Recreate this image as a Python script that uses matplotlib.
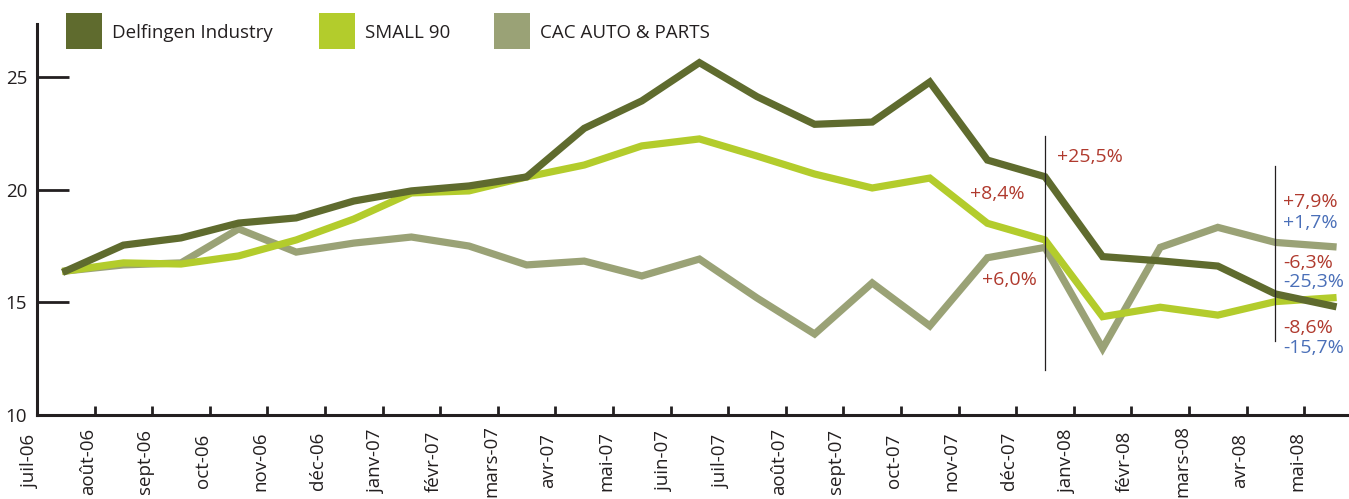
import numpy as np
import matplotlib
matplotlib.use('Agg')
import matplotlib.pyplot as plt
from matplotlib.patches import Rectangle
from matplotlib.transforms import blended_transform_factory

plt.rcParams['font.family'] = ['Open Sans', 'DejaVu Sans']

# data
months = ['juil-06', 'août-06', 'sept-06', 'oct-06', 'nov-06', 'déc-06',
          'janv-07', 'févr-07', 'mars-07', 'avr-07', 'mai-07', 'juin-07',
          'juil-07', 'août-07', 'sept-07', 'oct-07', 'nov-07', 'déc-07',
          'janv-08', 'févr-08', 'mars-08', 'avr-08', 'mai-08']
delfingen = [16.4, 17.55, 17.87, 18.53, 18.76, 19.51, 19.96, 20.18, 20.58,
             22.74, 23.96, 25.66, 24.15, 22.92, 23.02, 24.8, 21.33, 20.59,
             17.04, 16.85, 16.62, 15.38, 14.84]
small90 = [16.4, 16.76, 16.71, 17.07, 17.78, 18.71, 19.87, 19.96, 20.58,
           21.11, 21.96, 22.27, 21.51, 20.71, 20.09, 20.53, 18.52, 17.78,
           14.37, 14.79, 14.44, 15.04, 15.21]
cac_auto = [16.4, 16.67, 16.76, 18.27, 17.24, 17.64, 17.91, 17.51, 16.67,
            16.84, 16.18, 16.93, 15.2, 13.6, 15.87, 13.96, 16.99, 17.45,
            12.96, 17.45, 18.34, 17.67, 17.48]
series_names = ['Delfingen Industry', 'SMALL 90', 'CAC AUTO & PARTS']
series_colors = ['#5f6b2e', '#b3cc2c', '#9aa276']

# vertical markers: (x index of point, y bottom, y top)
markers = [(17, 12.0, 22.4), (21, 13.3, 21.07)]

# percentage notes: text, x, y, colour
notes = [('+25,5%', 17.71, 21.47, '#b03a2e'),
         ('+8,4%', 16.2, 19.82, '#b03a2e'),
         ('+6,0%', 16.41, 16.0, '#b03a2e'),
         ('+7,9%', 21.63, 19.47, '#b03a2e'),
         ('+1,7%', 21.63, 18.53, '#4a6fb8'),
         ('-6,3%', 21.63, 16.76, '#b03a2e'),
         ('-25,3%', 21.63, 15.91, '#4a6fb8'),
         ('-8,6%', 21.63, 13.87, '#b03a2e'),
         ('-15,7%', 21.63, 12.98, '#4a6fb8')]

W, H = 1349, 499
fig = plt.figure(figsize=(W / 100, H / 100), dpi=100)
ax = fig.add_axes([37 / W, 84 / H, 1312 / W, 391 / H])

x = np.arange(len(months)) + 0.5
for vals, c in zip([cac_auto, small90, delfingen], series_colors[::-1]):
    ax.plot(x, vals, color=c, lw=5.2, solid_joinstyle='miter')

for i, y0, y1 in markers:
    ax.plot([x[i], x[i]], [y0, y1], color='#231f20', lw=0.9)

for txt, tx, ty, c in notes:
    ax.text(tx, ty, txt, color=c, fontsize=14, ha='left', va='center')

ax.set_xlim(0, 1312 / 57.6)
ax.set_ylim(10, 10 + 391 / 22.5)

for s in ['top', 'right']:
    ax.spines[s].set_visible(False)
for s in ['left', 'bottom']:
    ax.spines[s].set_linewidth(2.2)
    ax.spines[s].set_color('#231f20')

ax.set_yticks([10, 15, 20, 25])
ax.tick_params(axis='y', direction='in', length=23, width=2, pad=7,
               labelsize=13.5, color='#231f20', labelcolor='#231f20')
ax.set_xticks(range(1, len(months)))
ax.set_xticklabels([])
ax.tick_params(axis='x', direction='in', length=6.5, width=2, color='#231f20')

trans = blended_transform_factory(ax.transData, fig.transFigure)
for i, m in enumerate(months):
    ax.text(i - 0.12, (H - 461) / H, m, transform=trans, rotation=90,
            ha='center', va='center', fontsize=13.5, color='#231f20')

# legend drawn as squares + text
leg_x = [66, 319, 494]
for lx, name, c in zip(leg_x, series_names, series_colors):
    fig.add_artist(Rectangle((lx / W, (H - 49) / H), 36 / W, 36 / H,
                             transform=fig.transFigure, color=c, lw=0))
    fig.text((lx + 46) / W, (H - 33) / H, name, fontsize=13.5,
             color='#231f20', ha='left', va='center')

fig.savefig('out.png', dpi=100)
